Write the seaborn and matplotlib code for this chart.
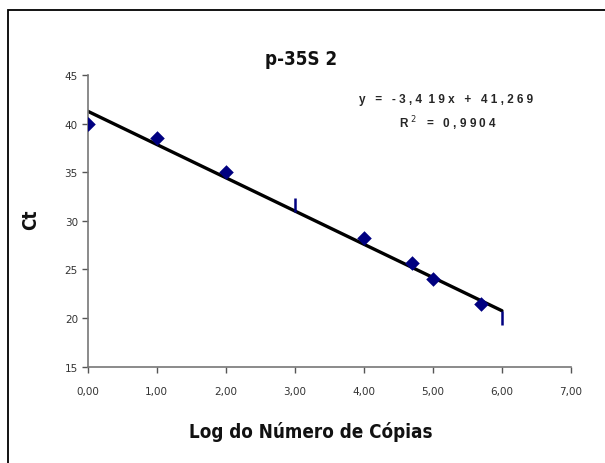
import matplotlib
matplotlib.use("Agg")
import matplotlib.pyplot as plt
import seaborn as sns
import pandas as pd
from matplotlib.patches import Rectangle

sns.set_theme(style="white")
plt.rcParams["font.family"] = ["DejaVu Sans"]

# ---------------------- DATA ---------------------- #
log_copias = [0.0, 1.0, 2.0, 4.0, 4.7, 5.0, 5.7]
ct_values = [40.0, 38.5, 35.0, 28.2, 25.7, 24.0, 21.4]

# points drawn with a vertical dash marker
dash_x = [3.0, 6.0]
dash_y = [31.6, 20.0]

slope = -3.419
intercept = 41.269
r2 = 0.9904
fit_x = [0.0, 6.0]

x_ticks = [0, 1, 2, 3, 4, 5, 6, 7]
y_ticks = [15, 20, 25, 30, 35, 40, 45]

NAVY = "#000080"
arial = ["Liberation Sans", "DejaVu Sans"]

# ---------------------- PLOT ---------------------- #
fig = plt.figure(figsize=(6.05, 4.64), dpi=100)
ax = fig.add_axes([0.1448, 0.2075, 0.799, 0.629])

df = pd.DataFrame({"x": log_copias, "y": ct_values})
fit_df = pd.DataFrame({"x": fit_x, "y": [slope * v + intercept for v in fit_x]})
dash_df = pd.DataFrame({"x": dash_x, "y": dash_y})

sns.lineplot(data=fit_df, x="x", y="y", color="black", linewidth=2.4, ax=ax, zorder=2)
sns.scatterplot(data=df, x="x", y="y", marker="D", s=55, color=NAVY,
                edgecolor=NAVY, linewidth=0, ax=ax, zorder=3)
sns.scatterplot(data=dash_df, x="x", y="y", marker="|", s=110, color=NAVY,
                linewidth=1.8, ax=ax, zorder=3)

ax.set_xlim(0, 7)
ax.set_ylim(15, 45)
ax.set_xticks(x_ticks)
ax.set_xticklabels([f"{v:.2f}".replace(".", ",") for v in x_ticks],
                   fontsize=7.5, color="#333333")
ax.set_yticks(y_ticks)
ax.set_yticklabels([str(v) for v in y_ticks], fontsize=7.5, color="#333333")
ax.tick_params(axis="both", direction="out", length=4, width=1, color="#555555",
               bottom=True, left=True, pad=3)
ax.tick_params(axis="x", pad=10)
ax.set_xlabel("")
ax.set_ylabel("")

for side in ["top", "right"]:
    ax.spines[side].set_visible(False)
for side in ["left", "bottom"]:
    ax.spines[side].set_color("#777777")
    ax.spines[side].set_linewidth(1.2)

# titles and labels (narrow look)
lbl = dict(ha="center", va="center", fontsize=13.5, fontweight="semibold",
           family=["DejaVu Sans"], fontstretch="condensed", color="#111111")
fig.text(0.497, 0.871, "p-35S 2", **lbl)
fig.text(0.513, 0.070, "Log do Número de Cópias", **lbl)
fig.text(0.05, 0.526, "Ct", rotation=90, **lbl)

# equation annotation
ax.text(0.741, 0.917, "y   =   - 3 , 4  1 9 x   +   4 1 , 2 6 9",
        transform=ax.transAxes, ha="center", va="center",
        fontsize=8.5, fontweight="bold", family=arial)
ax.text(0.745, 0.835, "R $^{2}$   =   0 , 9 9 0 4",
        transform=ax.transAxes, ha="center", va="center",
        fontsize=8.5, fontweight="bold", family=arial)

# chart frame
fig.patches.append(Rectangle((0.014, -0.1), 1.2, 1.076, transform=fig.transFigure,
                             fill=False, edgecolor="black", linewidth=1.3))

fig.savefig("out.png", dpi=100)
